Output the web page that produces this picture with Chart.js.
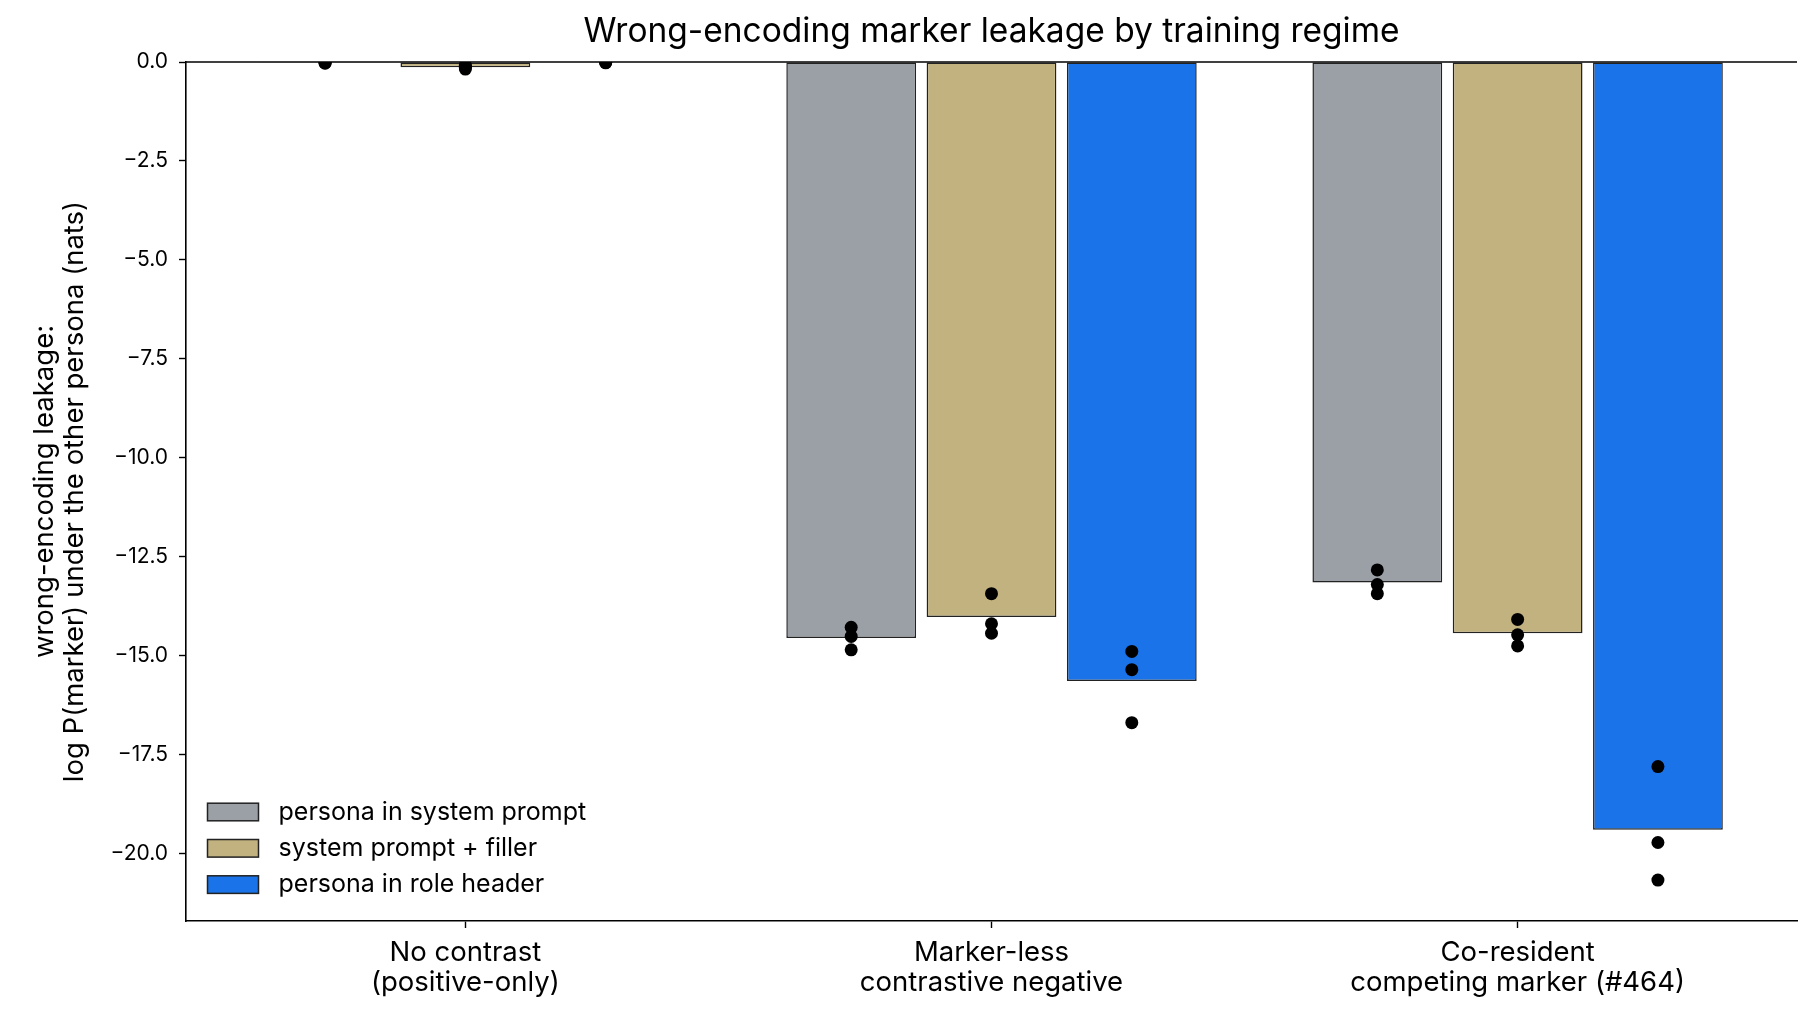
<!DOCTYPE html>
<html>
<head>
<meta charset="utf-8">
<script src="https://cdn.jsdelivr.net/npm/chart.js@4.4.1/dist/chart.umd.min.js"></script>
<style>
  html, body { margin: 0; padding: 0; background: #fff; }
  #wrap { width: 1815px; height: 1017px; position: relative; }
</style>
</head>
<body>
<div id="wrap"><canvas id="c" width="1815" height="1017"></canvas></div>
<script>
// ---------------- data ----------------
const categories = [
  ["No contrast", "(positive-only)"],
  ["Marker-less", "contrastive negative"],
  ["Co-resident", "competing marker (#464)"]
];
const seriesNames = ["persona in system prompt", "system prompt + filler", "persona in role header"];
const sysPromptMeans  = [-0.02, -14.56, -13.16];
const fillerMeans     = [-0.13, -14.03, -14.44];
const roleHeaderMeans = [-0.01, -15.65, -19.41];
const sysPromptSeeds  = [[-0.01, -0.02, -0.03], [-14.29, -14.52, -14.86], [-12.84, -13.21, -13.44]];
const fillerSeeds     = [[-0.08, -0.13, -0.18], [-13.44, -14.20, -14.44], [-14.09, -14.48, -14.76]];
const roleHeaderSeeds = [[0.0, -0.01, -0.02], [-14.90, -15.36, -16.70], [-17.81, -19.73, -20.68]];
const yTicks = [0, -2.5, -5, -7.5, -10, -12.5, -15, -17.5, -20];
const titleText = "Wrong-encoding marker leakage by training regime";
const yTitle = ["wrong-encoding leakage:", "log P(marker) under the other persona (nats)"];

// ---------------- styles ----------------
const colors = ["#9aa0a6", "#c2b280", "#1a73e8"];
const FONT = "Inter, 'DejaVu Sans', sans-serif";
const YTICK_SIZE = 21;
const XTICK_SIZE = 27.5;
const LEGEND_SIZE = 25;
const TITLE_SIZE = 33.5;
const YTITLE_SIZE = 27.5;
const CAT_PCT = 0.8;
const BAR_PCT = 0.925;

const means = [sysPromptMeans, fillerMeans, roleHeaderMeans];
const seeds = [sysPromptSeeds, fillerSeeds, roleHeaderSeeds];

const datasets = [];
means.forEach((arr, s) => {
  datasets.push({
    type: 'bar',
    label: seriesNames[s],
    data: arr.map((v, i) => ({ x: i, y: v })),
    backgroundColor: colors[s],
    borderColor: '#222222',
    borderWidth: 1.5,
    borderSkipped: false,
    categoryPercentage: CAT_PCT,
    barPercentage: BAR_PCT,
    order: 2
  });
});
seeds.forEach((grp, s) => {
  const off = (s - 1) * CAT_PCT / 3;
  const pts = [];
  grp.forEach((vals, i) => vals.forEach(v => pts.push({ x: i + off, y: v })));
  datasets.push({
    type: 'scatter',
    label: '_dots' + s,
    data: pts,
    backgroundColor: '#000',
    borderColor: '#000',
    borderWidth: 0,
    pointRadius: 6.5,
    pointHoverRadius: 6.5,
    clip: 0,
    order: 1
  });
});

const extras = {
  id: 'extras',
  afterDatasetsDraw(chart) {
    const { ctx, chartArea, scales } = chart;
    const y0 = scales.y.getPixelForValue(0);
    ctx.save();
    ctx.strokeStyle = '#000';
    ctx.lineWidth = 1.6;
    ctx.beginPath();
    ctx.moveTo(chartArea.left, y0);
    ctx.lineTo(chartArea.right, y0);
    ctx.stroke();
    ctx.restore();
  },
  afterDraw(chart) {
    const { ctx, chartArea } = chart;
    ctx.save();
    // title
    ctx.fillStyle = '#000';
    ctx.font = `${TITLE_SIZE}px ${FONT}`;
    ctx.textAlign = 'center';
    ctx.textBaseline = 'middle';
    ctx.fillText(titleText, (chartArea.left + chartArea.right) / 2, 32);
    // y title
    ctx.save();
    ctx.translate(0, (chartArea.top + chartArea.bottom) / 2);
    ctx.rotate(-Math.PI / 2);
    ctx.font = `${YTITLE_SIZE}px ${FONT}`;
    ctx.fillText(yTitle[0], 0, 44.5);
    ctx.fillText(yTitle[1], 0, 74.5);
    ctx.restore();
    // legend
    ctx.font = `${LEGEND_SIZE}px ${FONT}`;
    ctx.textAlign = 'left';
    ctx.textBaseline = 'middle';
    seriesNames.forEach((name, i) => {
      const cy = 812 + i * 36.3;
      const bx = chartArea.left + 21.5;
      ctx.fillStyle = colors[i];
      ctx.fillRect(bx, cy - 8.8, 51, 17.6);
      ctx.strokeStyle = '#222222';
      ctx.lineWidth = 1.5;
      ctx.strokeRect(bx, cy - 8.8, 51, 17.6);
      ctx.fillStyle = '#000';
      ctx.fillText(name, bx + 71, cy);
    });
    ctx.restore();
  }
};

new Chart(document.getElementById('c'), {
  type: 'bar',
  data: { datasets },
  options: {
    responsive: false,
    animation: false,
    devicePixelRatio: 1,
    layout: { padding: { top: 62, right: 18, left: 0, bottom: 0 } },
    plugins: {
      legend: { display: false },
      title: { display: false },
      tooltip: { enabled: false }
    },
    scales: {
      x: {
        type: 'linear',
        offset: false,
        min: -0.531,
        max: 2.531,
        afterBuildTicks: (scale) => { scale.ticks = categories.map((c, i) => ({ value: i })); },
        afterFit: (scale) => { scale.height = 96; },
        ticks: {
          callback: (v) => categories[Math.round(v)],
          color: '#000',
          font: { family: FONT, size: XTICK_SIZE, lineHeight: 1.09 },
          padding: 10,
          maxRotation: 0,
          autoSkip: false
        },
        grid: { offset: false, drawOnChartArea: false, drawTicks: true, tickLength: 7, tickColor: '#000', tickWidth: 1.4 },
        border: { display: true, color: '#000', width: 1.6 }
      },
      y: {
        type: 'linear',
        min: -21.714,
        max: 0,
        afterBuildTicks: (scale) => { scale.ticks = yTicks.map(v => ({ value: v })); },
        afterFit: (scale) => { scale.width = 186; },
        ticks: {
          callback: (v) => (v < 0 ? '\u2212' : '') + Math.abs(v).toFixed(1),
          color: '#000',
          font: { family: FONT, size: YTICK_SIZE },
          padding: 11
        },
        grid: { drawOnChartArea: false, drawTicks: true, tickLength: 7, tickColor: '#000', tickWidth: 1.4 },
        border: { display: true, color: '#000', width: 1.6 }
      }
    }
  },
  plugins: [extras]
});
</script>
</body>
</html>
